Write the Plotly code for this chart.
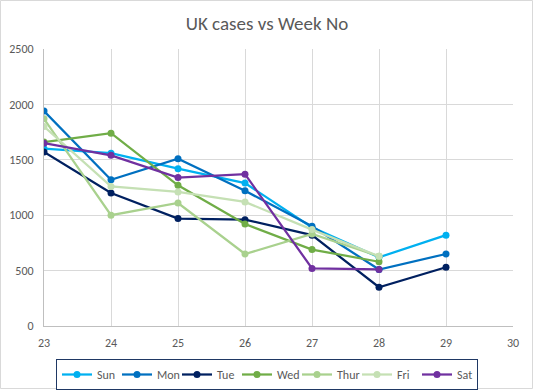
import plotly.graph_objects as go

weeks = [23, 24, 25, 26, 27, 28, 29]
sun = [1600, 1560, 1420, 1290, 890, 620, 820]
mon = [1940, 1320, 1510, 1220, 900, 510, 650]
tue = [1570, 1200, 970, 960, 820, 350, 530]
wed = [1660, 1740, 1270, 920, 690, 580]
thur = [1870, 1000, 1110, 650, 830, 630]
fri = [1800, 1260, 1210, 1120, 870, 630]
sat = [1650, 1540, 1340, 1370, 520, 510]

series = [
    ("Sun", sun, "#00B0F0"),
    ("Mon", mon, "#0070C0"),
    ("Tue", tue, "#002060"),
    ("Wed", wed, "#70AD47"),
    ("Thur", thur, "#A9D18E"),
    ("Fri", fri, "#C5E0B4"),
    ("Sat", sat, "#7030A0"),
]

fig = go.Figure()
for name, vals, color in series:
    fig.add_trace(go.Scatter(
        x=weeks[:len(vals)], y=vals, name=name, mode="lines+markers",
        line=dict(color=color, width=2.25),
        marker=dict(color=color, size=7),
    ))

font_fam = "Carlito, Calibri, 'Liberation Sans', Arial, sans-serif"
fig.update_layout(
    width=534, height=390,
    margin=dict(l=44, r=21, t=49, b=64, autoexpand=False),
    paper_bgcolor="white", plot_bgcolor="white",
    title=dict(text="UK cases vs Week No", x=0.5, xanchor="center", y=1 - 23/390, yanchor="middle",
               font=dict(family=font_fam, size=19, color="#595959")),
    font=dict(family=font_fam, size=12, color="#595959"),
    xaxis=dict(range=[23, 30], dtick=1, tick0=23, showgrid=True, gridcolor="#D9D9D9",
               showline=True, linecolor="#BFBFBF", linewidth=1, zeroline=False,
               ticks="", ticklabelstandoff=6, automargin=False,
               tickfont=dict(size=12, color="#595959")),
    yaxis=dict(range=[0, 2500], dtick=500, showgrid=True, gridcolor="#D9D9D9",
               showline=True, linecolor="#BFBFBF", linewidth=1, zeroline=False,
               ticks="", ticklabelstandoff=7, automargin=False,
               tickfont=dict(size=12, color="#595959")),
    legend=dict(orientation="h", x=0.5, xanchor="center", xref="container",
                y=31/390, yanchor="top", yref="container",
                bordercolor="#1F3864", borderwidth=1, font=dict(size=12, color="#595959"),
                entrywidth=15, itemwidth=30, tracegroupgap=0),
    showlegend=True,
)
fig.add_shape(type="rect", xref="paper", yref="paper",
              x0=-43.5/469, x1=1 + 19.5/469,
              y0=-62.5/277, y1=1 + 48.5/277, line=dict(color="#D9D9D9", width=1))

fig.write_html("out.html", config={"displayModeBar": False},
               post_script="document.body.style.margin='0';document.body.style.overflow='hidden';")
